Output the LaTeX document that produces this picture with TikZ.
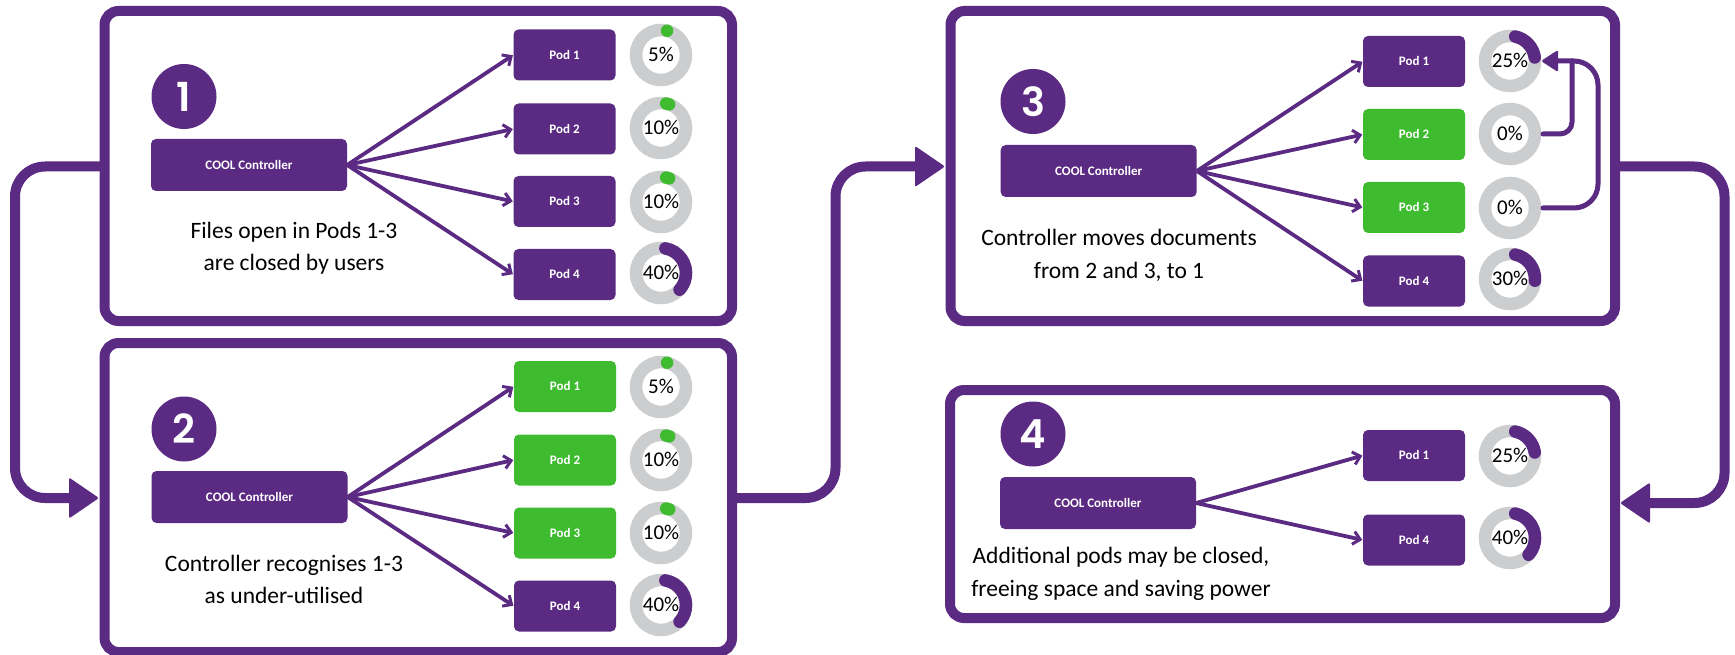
\documentclass[tikz,border=0pt]{standalone}
\usepackage{fontspec}
\setmainfont{Carlito}
\newfontfamily\numfont{Poppins SemiBold}
\usetikzlibrary{arrows.meta}
\definecolor{pur}{HTML}{5B2A82}
\definecolor{grn}{HTML}{3FBB2F}
\definecolor{gry}{HTML}{CBCDCF}
\newcommand{\lift}[1]{\raisebox{1pt}{#1}}
\tikzset{
 x=1pt,y=-1pt,
 panel/.style={draw=pur,line width=10pt,rounded corners=14pt,fill=white},
 podbox/.style={rounded corners=5pt,minimum width=102pt,minimum height=51pt,inner sep=0pt,text=white,font=\fontsize{13}{14}\selectfont\bfseries},
 purplepod/.style={podbox,fill=pur},
 greenpod/.style={podbox,fill=grn},
 ctrl/.style={rounded corners=5pt,fill=pur,minimum width=196pt,minimum height=52pt,inner sep=0pt,text=white,font=\fontsize{13}{14}\selectfont\bfseries},
 numdot/.style={circle,fill=pur,minimum size=65pt,inner sep=0pt,text=white,font=\numfont\fontsize{40}{40}\selectfont},
 ring/.style={circle,draw=gry,line width=12.5pt,minimum size=50pt,inner sep=0pt,font=\fontsize{21}{21}\selectfont,text=black},
 fan/.style={draw=pur,line width=3.8pt,-{Straight Barb[length=7pt,width=13pt,line width=3pt]},shorten >=0.5pt},
 flow/.style={draw=pur,line width=10pt},
 thinflow/.style={draw=pur,line width=5pt},
 capt/.style={font=\fontsize{23.5}{32.5}\selectfont,align=center,text=black},
 arcu/.style={draw=pur,line width=12.5pt,line cap=round},
 arcg/.style={draw=grn,line width=12.5pt,line cap=round},
}
\newcommand{\gauge}[4]{% name, x, y, label
 \node[ring] (#1) at (#2,#3) {\lift{#4}};}
\newcommand{\usearc}[5]{% centre x,y, from,to, style
 \draw[#5] ({#1+25*cos(#3)},{#2-25*sin(#3)}) arc[start angle=#3,end angle=#4,radius=25pt];}
\begin{document}
\begin{tikzpicture}
\useasboundingbox (0,0) rectangle (1735,655);
% flow connectors
\coordinate (a1) at (104,166.5);
\coordinate (a1b) at (15,166.5);
\coordinate (a1c) at (15,498);
\coordinate (h1) at (69,498);
\draw[flow,rounded corners=30pt] (a1) -- (a1b) -- (a1c) -- (h1);
\fill[pur,rounded corners=2pt] (69,477.5) -- (99,498) -- (69,518.5) -- cycle;
\coordinate (a2) at (732,498);
\coordinate (a2b) at (835.5,498);
\coordinate (a2c) at (835.5,166.5);
\coordinate (h2) at (916,166.5);
\draw[flow,rounded corners=30pt] (a2) -- (a2b) -- (a2c) -- (h2);
\fill[pur,rounded corners=2pt] (915,146) -- (945,166.5) -- (915,187) -- cycle;
\coordinate (a3) at (1615,166.5);
\coordinate (a3b) at (1724.5,166.5);
\coordinate (a3c) at (1724.5,503);
\coordinate (h3) at (1649,503);
\draw[flow,rounded corners=30pt] (a3) -- (a3b) -- (a3c) -- (h3);
\fill[pur,rounded corners=2pt] (1650,482.5) -- (1620,503) -- (1650,523.5) -- cycle;
% panels
\draw[panel] (104.5,11) rectangle (732,321);
\draw[panel] (104.5,343) rectangle (732,652);
\draw[panel] (950.5,11) rectangle (1615,321);
\draw[panel] (950,390) rectangle (1615,618);
% panel 1
\node[numdot] (n1) at (184,96.5) {1};
\node[ctrl] (c1) at (249,165) {\lift{COOL Controller}};
\node[purplepod] (p11) at (564.5,55) {\lift{Pod 1}};
\node[purplepod] (p12) at (564.5,129) {\lift{Pod 2}};
\node[purplepod] (p13) at (564.5,201.5) {\lift{Pod 3}};
\node[purplepod] (p14) at (564.5,274.5) {\lift{Pod 4}};
\foreach \t in {p11,p12,p13,p14} \draw[fan] (c1.east) -- (\t.west);
\gauge{g11}{661}{55}{5\%}\usearc{661}{55}{76}{76}{arcg}
\gauge{g12}{661}{128}{10\%}\usearc{661}{128}{78}{71}{arcg}
\gauge{g13}{661}{202}{10\%}\usearc{661}{202}{78}{71}{arcg}
\gauge{g14}{661}{273}{40\%}\usearc{661}{273}{80}{-42}{arcu}
\node[capt] (t1) at (294,248) {Files open in Pods 1-3\\are closed by users};
% panel 2
\node[numdot] (n2) at (184,429) {2};
\node[ctrl] (c2) at (249.5,497) {\lift{COOL Controller}};
\node[greenpod] (p21) at (565,386.5) {\lift{Pod 1}};
\node[greenpod] (p22) at (565,460) {\lift{Pod 2}};
\node[greenpod] (p23) at (565,533) {\lift{Pod 3}};
\node[purplepod] (p24) at (565,606) {\lift{Pod 4}};
\foreach \t in {p21,p22,p23,p24} \draw[fan] (c2.east) -- (\t.west);
\gauge{g21}{661}{387}{5\%}\usearc{661}{387}{76}{76}{arcg}
\gauge{g22}{661}{460}{10\%}\usearc{661}{460}{78}{71}{arcg}
\gauge{g23}{661}{533}{10\%}\usearc{661}{533}{78}{71}{arcg}
\gauge{g24}{661}{605}{40\%}\usearc{661}{605}{80}{-42}{arcu}
\node[capt] (t2) at (284,579.5) {Controller recognises 1-3\\as under-utilised};
% panel 3
\node[numdot] (n3) at (1033,101.5) {3};
\node[ctrl] (c3) at (1098.7,171) {\lift{COOL Controller}};
\node[purplepod] (p31) at (1414,61.5) {\lift{Pod 1}};
\node[greenpod] (p32) at (1414,134.5) {\lift{Pod 2}};
\node[greenpod] (p33) at (1414,207.5) {\lift{Pod 3}};
\node[purplepod] (p34) at (1414,281) {\lift{Pod 4}};
\foreach \t in {p31,p32,p33,p34} \draw[fan] (c3.east) -- (\t.west);
\gauge{g31}{1510}{61}{25\%}\usearc{1510}{61}{78}{8}{arcu}
\gauge{g32}{1510}{134}{0\%}
\gauge{g33}{1510}{208}{0\%}
\gauge{g34}{1510}{279}{30\%}\usearc{1510}{279}{78}{-4}{arcu}
\node[capt] (t3) at (1119,255.5) {Controller moves documents\\from 2 and 3, to 1};
\coordinate (m1) at (1572,61);
\coordinate (m2) at (1598,61);
\draw[thinflow,line cap=round,rounded corners=12pt] (1543,134) -- (1572,134) -- (m1);
\draw[thinflow,line cap=round,rounded corners=24pt] (1543,208) -- (1598,208) -- (m2) -- (1556,61);
\fill[pur,rounded corners=1.5pt] (1558,50) -- (1541,61) -- (1558,72) -- cycle;
% panel 4
\node[numdot] (n4) at (1033,434) {4};
\node[ctrl] (c4) at (1098,503) {\lift{COOL Controller}};
\node[purplepod] (p41) at (1414,455.5) {\lift{Pod 1}};
\node[purplepod] (p44) at (1414,540) {\lift{Pod 4}};
\foreach \t in {p41,p44} \draw[fan] (c4.east) -- (\t.west);
\gauge{g41}{1510}{456}{25\%}\usearc{1510}{456}{78}{8}{arcu}
\gauge{g44}{1510}{538}{40\%}\usearc{1510}{538}{78}{-42}{arcu}
\node[capt] (t4) at (1121,574) {Additional pods may be closed,\\freeing space and saving power};
\end{tikzpicture}
\end{document}
